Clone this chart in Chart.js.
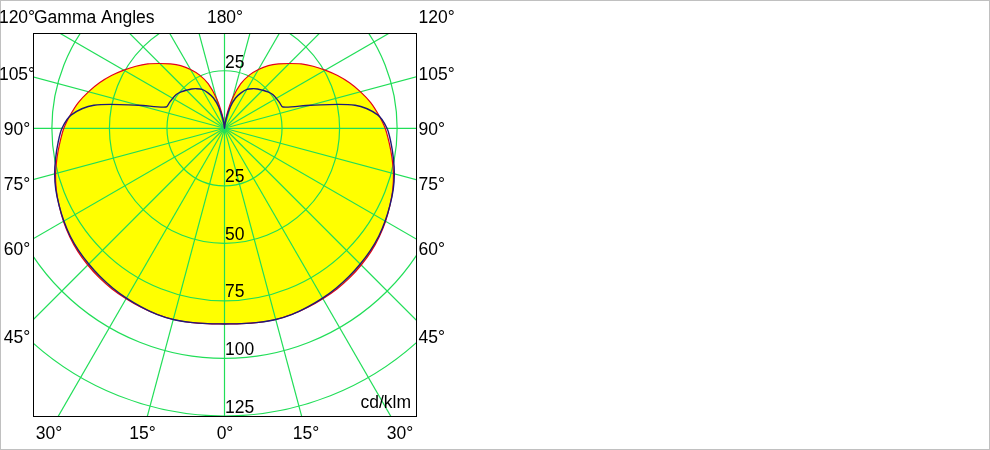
<!DOCTYPE html>
<html>
<head>
<meta charset="utf-8">
<script src="https://cdn.jsdelivr.net/npm/chart.js@4.4.1/dist/chart.umd.min.js"></script>
<style>
  html, body { margin: 0; padding: 0; background: #fff; }
  canvas { display: block; }
</style>
</head>
<body>
<canvas id="polarChart" width="990" height="450"></canvas>
<script>
// Gamma angles (deg) and luminous intensity (cd/klm)
const gammaAngles = [0, 5, 10, 15, 20, 25, 30, 35, 40, 45, 50, 55, 60, 65, 70, 75, 80, 85, 90,
                     95, 100, 105, 110, 115, 120, 125, 130, 135, 140, 145, 150, 155, 160, 165, 170, 175, 180];
// C0-C180 plane (red)
const redCd = [85, 85.2, 85.6, 86, 86, 85.8, 85.5, 85.2, 84.7, 84, 83.2, 82.1, 80.8, 79.3, 77.8, 76, 73.9, 71.8, 69.8,
               67.2, 64.5, 61.2, 57.8, 54.2, 50.5, 47, 43.5, 39.8, 36.5, 33.2, 29.5, 25.5, 20.5, 13.5, 6.5, 2, 0];
// C90-C270 plane (blue)
const blueCd = [85, 85.2, 85.6, 86, 86, 85.6, 85.2, 84.7, 84.1, 83.4, 82.7, 81.8, 80.6, 79.3, 78, 76.4, 74.5, 72.6, 70.6,
                66.8, 57.6, 38.8, 27, 26.4, 26, 25.6, 24.6, 23.4, 22.3, 21, 19.5, 17, 14, 9.5, 4.5, 1.2, 0];

const ringValues = ['25', '50', '75', '100', '125'];
const leftLabels = ['120°', '105°', '90°', '75°', '60°', '45°'];
const rightLabels = ['120°', '105°', '90°', '75°', '60°', '45°'];
const bottomLabels = ['30°', '15°', '0°', '15°', '30°'];
const topCenterLabel = '180°';
const titleText = 'Gamma Angles';
const unitText = 'cd/klm';

// layout (pixels)
const sideBaselines = [23, 80, 134.5, 190, 254.5, 343];
const bottomCenters = [49, 142.5, 225, 306, 400];
const bottomBaseline = 439;

const gridColor = '#21de58';
const fontSpec = '17.5px "Liberation Sans", Arial, sans-serif';

// polar -> cartesian: right half 0..180, then mirrored left half back to 0
function polarPoints(values) {
    const pts = [];
    for (let i = 0; i < gammaAngles.length; i++) {
        const g = gammaAngles[i] * Math.PI / 180;
        pts.push({ x: values[i] * Math.sin(g), y: -values[i] * Math.cos(g) });
    }
    for (let i = gammaAngles.length - 2; i >= 0; i--) {
        const g = gammaAngles[i] * Math.PI / 180;
        pts.push({ x: -values[i] * Math.sin(g), y: -values[i] * Math.cos(g) });
    }
    return pts;
}

const redPts = polarPoints(redCd);
const bluePts = polarPoints(blueCd);

// Grid goes right after the yellow fill, before the curves
const polarGrid = {
    id: 'polarGrid',
    beforeDraw(chart) {
        const ctx = chart.ctx;
        ctx.save();
        ctx.fillStyle = '#fff';
        ctx.fillRect(0, 0, chart.width, chart.height);
        ctx.strokeStyle = '#c0c0c0';
        ctx.lineWidth = 1;
        ctx.strokeRect(0.5, 0.5, 989, 449);
        ctx.restore();
    },
    afterDatasetDraw(chart, args) {
        if (args.index !== 0) return;
        const ctx = chart.ctx;
        const area = chart.chartArea;
        const xs = chart.scales.x, ys = chart.scales.y;
        const cx = xs.getPixelForValue(0), cy = ys.getPixelForValue(0);
        ctx.save();
        ctx.beginPath();
        ctx.rect(area.left, area.top, area.right - area.left, area.bottom - area.top);
        ctx.clip();
        ctx.strokeStyle = gridColor;
        ctx.lineWidth = 1.2;
        ringValues.forEach(v => {
            const r = xs.getPixelForValue(Number(v)) - cx;
            ctx.beginPath();
            ctx.arc(cx, cy, r, 0, Math.PI * 2);
            ctx.stroke();
        });
        for (let a = 0; a < 360; a += 15) {
            const t = a * Math.PI / 180;
            ctx.beginPath();
            ctx.moveTo(cx, cy);
            ctx.lineTo(cx + 500 * Math.sin(t), cy + 500 * Math.cos(t));
            ctx.stroke();
        }
        ctx.restore();
    },
    afterDraw(chart) {
        const ctx = chart.ctx;
        const area = chart.chartArea;
        const xs = chart.scales.x, ys = chart.scales.y;
        const cx = xs.getPixelForValue(0);
        ctx.save();
        ctx.strokeStyle = '#000';
        ctx.lineWidth = 1;
        ctx.strokeRect(Math.round(area.left) + 0.5, Math.round(area.top) + 0.5,
                       Math.round(area.right - area.left), Math.round(area.bottom - area.top));

        ctx.fillStyle = '#000';
        ctx.font = fontSpec;
        ctx.textBaseline = 'alphabetic';

        // ring values, just above each ring on the 0° line
        ctx.textAlign = 'left';
        ctx.fillText(ringValues[0], cx + 0.5, ys.getPixelForValue(Number(ringValues[0])) - 2.5);
        ringValues.forEach(v => {
            ctx.fillText(v, cx + 0.5, ys.getPixelForValue(-Number(v)) - 3.5);
        });

        // side gamma labels
        ctx.textAlign = 'center';
        leftLabels.forEach((t, i) => ctx.fillText(t, 17, sideBaselines[i]));
        ctx.textAlign = 'left';
        rightLabels.forEach((t, i) => ctx.fillText(t, area.right + 2.5, sideBaselines[i]));

        ctx.fillText(titleText, 34, sideBaselines[0]);
        ctx.textAlign = 'center';
        ctx.fillText(topCenterLabel, cx + 0.5, sideBaselines[0]);

        bottomLabels.forEach((t, i) => ctx.fillText(t, bottomCenters[i], bottomBaseline));

        ctx.textAlign = 'right';
        ctx.fillText(unitText, area.right - 5, 408);
        ctx.restore();
    }
};

const ctx = document.getElementById('polarChart').getContext('2d');
const chart = new Chart(ctx, {
    type: 'scatter',
    data: {
        datasets: [
            {   // yellow area inside the outer curve
                data: redPts,
                showLine: true,
                fill: 'shape',
                tension: 0.3,
                backgroundColor: '#ffff00',
                borderColor: 'rgba(0,0,0,0)',
                borderWidth: 0,
                pointRadius: 0,
                order: 3
            },
            {
                data: redPts,
                showLine: true,
                fill: false,
                tension: 0.3,
                borderColor: '#e3001b',
                borderWidth: 1.2,
                pointRadius: 0,
                order: 2
            },
            {
                data: bluePts,
                showLine: true,
                fill: false,
                tension: 0.3,
                borderColor: '#1d1a78',
                borderWidth: 1.4,
                pointRadius: 0,
                order: 1
            }
        ]
    },
    options: {
        responsive: false,
        animation: false,
        devicePixelRatio: 1,
        layout: { padding: { left: 33, top: 33, right: 574, bottom: 34 } },
        scales: {
            x: { type: 'linear', display: false, min: -83.2, max: 83.2 },
            y: { type: 'linear', display: false, min: -125, max: 41.4 }
        },
        plugins: {
            legend: { display: false },
            tooltip: { enabled: false }
        }
    },
    plugins: [polarGrid]
});
</script>
</body>
</html>
